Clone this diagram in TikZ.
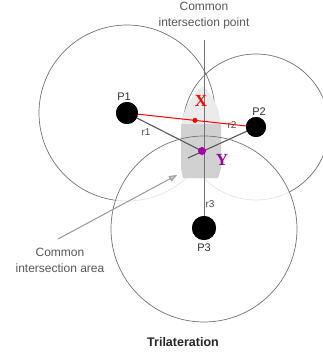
\documentclass[tikz,border=0pt]{standalone}
\usepackage{fontspec}
\setmainfont{Liberation Sans}
\newfontfamily\serifb{Liberation Serif}
\usetikzlibrary{arrows.meta,calc}
\begin{document}
\begin{tikzpicture}[x=1pt,y=-1pt,
  ring/.style={draw=black!55,line width=0.7pt},
  blackdot/.style={circle,fill=black,inner sep=0pt},
  lab/.style={font=\fontsize{11}{12}\selectfont,text=black!80},
  rlab/.style={font=\fontsize{10}{11}\selectfont,text=black!70},
  note/.style={font=\fontsize{12}{16}\selectfont,text=black!65,align=center},
  ray/.style={draw=black!65,line width=1.1pt},
  big/.style={font=\serifb\bfseries\fontsize{17}{17}\selectfont}]
\useasboundingbox (0,0) rectangle (323,354);
\fill[white] (0,0) rectangle (323,354);
% circles
\coordinate (c1) at (127,113);
\coordinate (c2) at (256,127);
\coordinate (c3) at (204,229);
\draw[ring] (c1) circle[radius=88];
\begin{scope}
\clip (0,0) rectangle (323,354);
\draw[ring] (c2) circle[radius=73];
\end{scope}
\fill[white,opacity=0.8] (c3) circle[radius=93];
% intersection area
\fill[black!8] (183,178) -- (181,168) -- (181,130) .. controls (181,110) and (193,95) .. (203,86)
  .. controls (213,95) and (221,110) .. (221,130) -- (221,168) -- (218,178) -- cycle;
\begin{scope}
\clip (183,178) -- (181,168) -- (181,130) .. controls (181,110) and (193,95) .. (203,86)
  .. controls (213,95) and (221,110) .. (221,130) -- (221,168) -- (218,178) -- cycle;
\fill[black!18] (170,124) rectangle (230,180);
\end{scope}
\draw[ring] (c3) circle[radius=93];
% nodes
\node[blackdot,minimum size=22pt] (P1) at (127,113) {};
\node[blackdot,minimum size=20pt] (P2) at (256,127) {};
\node[blackdot,minimum size=24pt] (P3) at (204,228) {};
\coordinate (top) at (204,40);
\coordinate (ext) at (188,158);
% vertical line
\draw[black!55,line width=0.9pt] (top) -- (P3.center);
% rays
\draw[ray] (P1.center) -- (202,151) coordinate (yc);
\draw[ray] (P2.center) -- (ext);
% red line
\draw[red,line width=1pt] (P1.center) -- (P2.center);
\node[circle,fill=red,inner sep=0pt,minimum size=5pt] (M) at ($(P1)!0.527!(P2)$) {};
% Y dot
\node[circle,fill=violet!70!magenta,inner sep=0pt,minimum size=8pt] (Y) at (yc) {};
% redraw black dots on top
\node[blackdot,minimum size=22pt] at (P1) {};
\node[blackdot,minimum size=20pt] at (P2) {};
\node[blackdot,minimum size=24pt] at (P3) {};
% labels
\node[lab] (lP1) at (124,97) {P1};
\node[lab] (lP2) at (259,112) {P2};
\node[lab] (lP3) at (204,248) {P3};
\node[rlab] (r1) at (146,132) {r1};
\node[rlab] (r2) at (232,125) {r2};
\node[rlab] (r3) at (210,204) {r3};
\node[big,text=red] (X) at (201,101) {X};
\node[big,text=violet!75!magenta] (Ylab) at (222,160) {Y};
% notes
\node[note] (n1) at (204,16) {Common\\intersection point};
\node[note] (n2) at (60,260) {Common\\intersection area};
\draw[black!40,line width=1pt,-{Triangle[width=6pt,length=8pt,fill=black!20]}] (58,239) -- (177,175);
\node[font=\bfseries\fontsize{12.5}{14}\selectfont,text=black!85] (title) at (183,342) {Trilateration};
\end{tikzpicture}
\end{document}
